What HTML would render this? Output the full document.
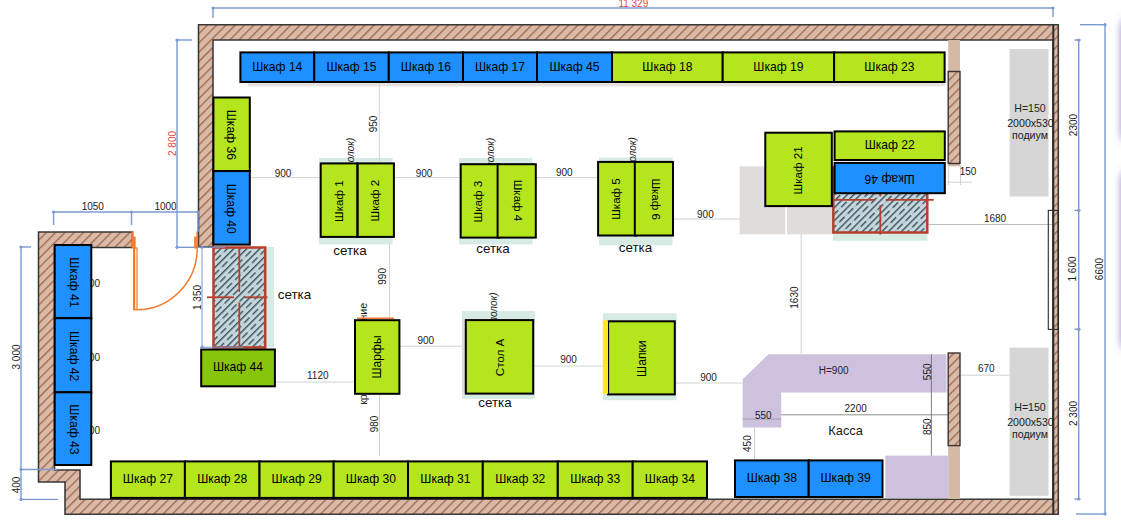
<!DOCTYPE html>
<html><head><meta charset="utf-8"><title>plan</title>
<style>
html,body{margin:0;padding:0;background:#fff;}
body{width:1121px;height:532px;overflow:hidden;position:relative;font-family:"Liberation Sans",sans-serif;}
svg{position:absolute;left:0;top:0;display:block}
text{font-family:"Liberation Sans",sans-serif;fill:#1a1a1a}
.c{font-size:12.1px;text-anchor:middle;fill:#000}
.c2{font-size:11.6px;text-anchor:middle;fill:#000}
.d{font-size:10px;text-anchor:middle;fill:#222}
.s{font-size:13.4px;text-anchor:middle;fill:#111}
.r{font-size:10px;text-anchor:middle;fill:#e8453c}
.i{font-size:10px;font-style:italic;fill:#222}
.p{font-size:10.6px;text-anchor:middle;fill:#222}
</style></head><body>
<svg width="1121" height="532" viewBox="0 0 1121 532">
<defs>
<pattern id="wh" width="6.55" height="6.55" patternUnits="userSpaceOnUse" patternTransform="rotate(45)">
<rect width="6.55" height="6.55" fill="#d9baa8"/><rect x="0" y="0" width="1.3" height="6.55" fill="#a0664a"/>
</pattern>
<pattern id="gh" width="9.2" height="12" patternUnits="userSpaceOnUse" patternTransform="rotate(45)">
<rect width="9.2" height="12" fill="#c6d8dc"/>
<rect x="0" y="0" width="1.45" height="12" fill="#3d5462"/>
<rect x="4.6" y="0" width="1.45" height="7.8" fill="#3d5462"/>
<rect x="4.7" y="9.4" width="1.0" height="0.9" fill="#6f8792"/>
</pattern>
</defs>
<rect width="1121" height="532" fill="#ffffff"/>

<rect x="319" y="158" width="73.6" height="86.4" fill="#d6ebe3"/>
<rect x="459" y="158" width="73.5" height="86.4" fill="#d6ebe3"/>
<rect x="599" y="157.5" width="73.5" height="87.8" fill="#d6ebe3"/>
<rect x="462" y="311" width="73.0" height="87.8" fill="#d6ebe3"/>
<rect x="461.8" y="319" width="4.2" height="75.0" fill="#e3ddd8"/>
<rect x="603" y="313.3" width="73.6" height="86.9" fill="#d6ebe3"/>
<rect x="266" y="247" width="8.0" height="100.5" fill="#d6ebe3"/>
<rect x="833" y="233" width="94.4" height="7.8" fill="#d6ebe3"/>
<rect x="248" y="82" width="697.0" height="4.4" fill="#e7e3df"/>
<rect x="739.6" y="166.3" width="45.7" height="68.0" fill="#e0dcd9"/>
<rect x="787" y="166.3" width="45.0" height="68.0" fill="#e0dcd9"/>
<rect x="1009.6" y="49" width="38.9" height="147.6" fill="#d6d6d6"/>
<rect x="1009.6" y="347.6" width="38.9" height="148.2" fill="#d6d6d6"/>
<polygon points="768.5,354.3 946.5,354.3 946.5,392.6 781.2,392.6 781.2,427.6 742.7,427.6 742.7,379.3" fill="#cdc1de"/>
<rect x="885.3" y="455.6" width="62.7" height="42.4" fill="#cdc1de"/>
<line x1="250" y1="177.6" x2="320" y2="177.6" stroke="#d2d2d2" stroke-width="1"/>
<line x1="395" y1="177.6" x2="460" y2="177.6" stroke="#d2d2d2" stroke-width="1"/>
<line x1="536" y1="177.6" x2="597.5" y2="177.6" stroke="#d2d2d2" stroke-width="1"/>
<line x1="673.5" y1="219" x2="740" y2="219" stroke="#d2d2d2" stroke-width="1"/>
<line x1="379.3" y1="83" x2="379.3" y2="163" stroke="#d2d2d2" stroke-width="1"/>
<line x1="389.6" y1="244" x2="389.6" y2="319" stroke="#d2d2d2" stroke-width="1"/>
<line x1="379.5" y1="395" x2="379.5" y2="456" stroke="#d2d2d2" stroke-width="1"/>
<line x1="276" y1="382" x2="354.6" y2="382" stroke="#d2d2d2" stroke-width="1"/>
<line x1="400" y1="346.2" x2="461.8" y2="346.2" stroke="#d2d2d2" stroke-width="1"/>
<line x1="535" y1="366" x2="603" y2="366" stroke="#d2d2d2" stroke-width="1"/>
<line x1="676" y1="383" x2="742.7" y2="383" stroke="#d2d2d2" stroke-width="1"/>
<line x1="801.2" y1="234" x2="801.2" y2="354.3" stroke="#d2d2d2" stroke-width="1"/>
<line x1="928.5" y1="224.5" x2="1052.3" y2="224.5" stroke="#bdbdbd" stroke-width="1"/>
<line x1="960" y1="375.2" x2="1009.6" y2="375.2" stroke="#d2d2d2" stroke-width="1"/>
<line x1="781.2" y1="414.8" x2="948" y2="414.8" stroke="#808080" stroke-width="0.9"/>
<line x1="742.7" y1="419" x2="781.2" y2="419" stroke="#9e96a8" stroke-width="0.9"/>
<line x1="931.4" y1="354.3" x2="931.4" y2="455.6" stroke="#707070" stroke-width="0.9"/>
<line x1="754.5" y1="427.6" x2="754.5" y2="459.5" stroke="#d2d2d2" stroke-width="1"/>
<line x1="947" y1="182.2" x2="972" y2="182.2" stroke="#d2d2d2" stroke-width="1"/>
<line x1="948.5" y1="165" x2="948.5" y2="185" stroke="#d2d2d2" stroke-width="1"/>
<line x1="960.5" y1="165" x2="960.5" y2="185" stroke="#d2d2d2" stroke-width="1"/>
<polygon points="132.5,232 38.5,232 38.5,482 65,482 65,514.2 1058.3,514.2 1058.3,24.8 198.5,24.8 198.5,247 213,247 213,40 1053,40 1053,499.3 80,499.3 80,470 54.5,470 54.5,247.5 132.5,247.5" fill="url(#wh)" stroke="#3a3837" stroke-width="1.55" stroke-linejoin="miter"/>
<line x1="1053.3" y1="24.6" x2="1053.3" y2="514.2" stroke="#2e2b2a" stroke-width="2"/>
<rect x="948.2" y="40" width="11.8" height="32.0" fill="#d5b9a7"/>
<rect x="948.2" y="163" width="11.8" height="3.3" fill="#d5b9a7"/>
<rect x="948.2" y="445" width="11.8" height="54.0" fill="#d5b9a7"/>
<rect x="948.2" y="71.5" width="11.8" height="92" fill="url(#wh)" stroke="#3a3230" stroke-width="1.4"/>
<rect x="948.2" y="353" width="11.8" height="92.6" fill="url(#wh)" stroke="#3a3230" stroke-width="1.4"/>
<rect x="1048.3" y="210.4" width="9.8" height="119" fill="none" stroke="#2a2a2a" stroke-width="1.1"/>
<rect x="213.5" y="247.5" width="51.7" height="99.9" fill="url(#gh)" stroke="#b63f2e" stroke-width="2.5"/>
<line x1="239.3" y1="247" x2="239.3" y2="292" stroke="#b63f2e" stroke-width="1.8"/>
<line x1="239.3" y1="302.5" x2="239.3" y2="348" stroke="#b63f2e" stroke-width="1.8"/>
<line x1="207" y1="297.3" x2="234" y2="297.3" stroke="#b63f2e" stroke-width="1.8"/>
<line x1="244.8" y1="297.3" x2="267.5" y2="297.3" stroke="#b63f2e" stroke-width="1.8"/>
<rect x="833.3" y="167.2" width="94" height="65.3" fill="url(#gh)" stroke="#b63f2e" stroke-width="2.5"/>
<line x1="880.3" y1="193" x2="880.3" y2="196.5" stroke="#b63f2e" stroke-width="1.8"/>
<line x1="880.3" y1="205.3" x2="880.3" y2="234.6" stroke="#b63f2e" stroke-width="1.8"/>
<line x1="832" y1="199.9" x2="874.6" y2="199.9" stroke="#b63f2e" stroke-width="1.8"/>
<line x1="885.9" y1="199.9" x2="933.8" y2="199.9" stroke="#b63f2e" stroke-width="1.8"/>
<text class="d" x="91.7" y="287">900</text>
<text class="d" x="91.7" y="360.5">900</text>
<text class="d" x="91.7" y="433.5">900</text>
<text class="i" style="text-anchor:end" transform="translate(354.3,137.7) rotate(-90)">(без полок)</text>
<text class="i" style="text-anchor:end" transform="translate(494.3,137.7) rotate(-90)">(без полок)</text>
<text class="i" style="text-anchor:end" transform="translate(635.5,137.2) rotate(-90)">(без полок)</text>
<text class="i" style="text-anchor:end" transform="translate(497.3,292.5) rotate(-90)">(без полок)</text>
<text class="d" style="text-anchor:end;font-size:10.6px" transform="translate(367.2,302.9) rotate(-90)">крепление</text>
<text class="d" style="text-anchor:start;font-size:10.6px" transform="translate(367.2,404.8) rotate(-90)">крепл</text>
<rect x="240.4" y="52.4" width="73.8" height="29.6" fill="#1e90ff" stroke="#000" stroke-width="2"/>
<text class="c" x="277.3" y="71.3">Шкаф 14</text>
<rect x="314.2" y="52.4" width="74.6" height="29.6" fill="#1e90ff" stroke="#000" stroke-width="2"/>
<text class="c" x="351.5" y="71.3">Шкаф 15</text>
<rect x="388.8" y="52.4" width="74.2" height="29.6" fill="#1e90ff" stroke="#000" stroke-width="2"/>
<text class="c" x="425.9" y="71.3">Шкаф 16</text>
<rect x="463.0" y="52.4" width="74.0" height="29.6" fill="#1e90ff" stroke="#000" stroke-width="2"/>
<text class="c" x="500.0" y="71.3">Шкаф 17</text>
<rect x="537.0" y="52.4" width="75.0" height="29.6" fill="#1e90ff" stroke="#000" stroke-width="2"/>
<text class="c" x="574.5" y="71.3">Шкаф 45</text>
<rect x="612.0" y="52.4" width="110.7" height="29.6" fill="#b5e61d" stroke="#000" stroke-width="2"/>
<text class="c" x="667.4" y="71.3">Шкаф 18</text>
<rect x="722.7" y="52.4" width="111.4" height="29.6" fill="#b5e61d" stroke="#000" stroke-width="2"/>
<text class="c" x="778.4" y="71.3">Шкаф 19</text>
<rect x="834.1" y="52.4" width="110.5" height="29.6" fill="#b5e61d" stroke="#000" stroke-width="2"/>
<text class="c" x="889.4" y="71.3">Шкаф 23</text>
<rect x="110.9" y="461.4" width="74.0" height="36.5" fill="#b5e61d" stroke="#000" stroke-width="2"/>
<text class="c" x="147.9" y="482.9">Шкаф 27</text>
<rect x="184.9" y="461.4" width="74.6" height="36.5" fill="#b5e61d" stroke="#000" stroke-width="2"/>
<text class="c" x="222.2" y="482.9">Шкаф 28</text>
<rect x="259.5" y="461.4" width="74.2" height="36.5" fill="#b5e61d" stroke="#000" stroke-width="2"/>
<text class="c" x="296.6" y="482.9">Шкаф 29</text>
<rect x="333.7" y="461.4" width="74.3" height="36.5" fill="#b5e61d" stroke="#000" stroke-width="2"/>
<text class="c" x="370.9" y="482.9">Шкаф 30</text>
<rect x="408.0" y="461.4" width="74.8" height="36.5" fill="#b5e61d" stroke="#000" stroke-width="2"/>
<text class="c" x="445.4" y="482.9">Шкаф 31</text>
<rect x="482.8" y="461.4" width="75.0" height="36.5" fill="#b5e61d" stroke="#000" stroke-width="2"/>
<text class="c" x="520.3" y="482.9">Шкаф 32</text>
<rect x="557.8" y="461.4" width="74.9" height="36.5" fill="#b5e61d" stroke="#000" stroke-width="2"/>
<text class="c" x="595.2" y="482.9">Шкаф 33</text>
<rect x="632.7" y="461.4" width="74.3" height="36.5" fill="#b5e61d" stroke="#000" stroke-width="2"/>
<text class="c" x="669.9" y="482.9">Шкаф 34</text>
<rect x="735.0" y="460.4" width="73.7" height="36.6" fill="#1e90ff" stroke="#000" stroke-width="2"/>
<text class="c" x="771.9" y="481.7">Шкаф 38</text>
<rect x="808.7" y="460.4" width="73.8" height="36.6" fill="#1e90ff" stroke="#000" stroke-width="2"/>
<text class="c" x="845.6" y="481.7">Шкаф 39</text>
<rect x="54.7" y="245.0" width="36.6" height="73.2" fill="#1e90ff" stroke="#000" stroke-width="2"/>
<text class="c" transform="translate(74.0,282.4) rotate(90)" x="0" y="4.1">Шкаф 41</text>
<rect x="54.7" y="318.2" width="36.6" height="74.1" fill="#1e90ff" stroke="#000" stroke-width="2"/>
<text class="c" transform="translate(74.0,356.1) rotate(90)" x="0" y="4.1">Шкаф 42</text>
<rect x="54.7" y="392.3" width="36.6" height="72.7" fill="#1e90ff" stroke="#000" stroke-width="2"/>
<text class="c" transform="translate(74.0,429.4) rotate(90)" x="0" y="4.1">Шкаф 43</text>
<rect x="213.4" y="97.5" width="36.4" height="73.6" fill="#b5e61d" stroke="#000" stroke-width="2"/>
<text class="c" transform="translate(231.6,134.8) rotate(90)" x="0" y="4.1">Шкаф 36</text>
<rect x="213.4" y="171.1" width="36.4" height="73.5" fill="#1e90ff" stroke="#000" stroke-width="2"/>
<text class="c" transform="translate(231.6,208.7) rotate(90)" x="0" y="4.1">Шкаф 40</text>
<rect x="320.7" y="163.4" width="36.7" height="73.5" fill="#b5e61d" stroke="#000" stroke-width="2"/>
<text class="c2" transform="translate(339.0,201.2) rotate(-90)" x="0" y="4.1">Шкаф 1</text>
<rect x="357.7" y="163.4" width="36.2" height="73.5" fill="#b5e61d" stroke="#000" stroke-width="2"/>
<text class="c2" transform="translate(374.9,200.7) rotate(-90)" x="0" y="4.1">Шкаф 2</text>
<rect x="460.7" y="164.2" width="38.3" height="73.4" fill="#b5e61d" stroke="#000" stroke-width="2"/>
<text class="c2" transform="translate(477.9,201.7) rotate(-90)" x="0" y="4.1">Шкаф 3</text>
<rect x="497.6" y="164.2" width="38.2" height="73.4" fill="#b5e61d" stroke="#000" stroke-width="2"/>
<text class="c2" transform="translate(518.5,200.5) rotate(90)" x="0" y="4.1">Шкаф 4</text>
<rect x="598.1" y="161.9" width="38.1" height="73.6" fill="#b5e61d" stroke="#000" stroke-width="2"/>
<text class="c2" transform="translate(615.4,199.0) rotate(-90)" x="0" y="4.1">Шкаф 5</text>
<rect x="634.8" y="161.9" width="38.2" height="73.6" fill="#b5e61d" stroke="#000" stroke-width="2"/>
<text class="c2" transform="translate(656.1,199.2) rotate(90)" x="0" y="4.1">Шкаф 6</text>
<rect x="765.3" y="132.7" width="66.5" height="73.4" fill="#b5e61d" stroke="#000" stroke-width="2"/>
<text class="c2" transform="translate(797.8,170.4) rotate(-90)" x="0" y="4.1">Шкаф 21</text>
<rect x="834.6" y="131.4" width="110.2" height="28.6" fill="#b5e61d" stroke="#000" stroke-width="2"/>
<text class="c" x="889.7" y="149.0">Шкаф 22</text>
<rect x="834.6" y="162.9" width="110.2" height="30.3" fill="#1e90ff" stroke="#000" stroke-width="2"/>
<text class="c" transform="translate(889.7,179.2) rotate(180)" x="0" y="4.1">Шкаф 46</text>
<rect x="201.2" y="349.5" width="73.7" height="36.8" fill="#87c50a" stroke="#000" stroke-width="2"/>
<text class="c" x="238.0" y="371.1">Шкаф 44</text>
<rect x="355.0" y="320.2" width="44.4" height="73.6" fill="#b5e61d" stroke="#000" stroke-width="2"/>
<text class="c" transform="translate(377.2,357.0) rotate(-90)" x="0" y="4.1">Шарфы</text>
<rect x="465.8" y="320.1" width="67.4" height="73.5" fill="#b5e61d" stroke="#000" stroke-width="2"/>
<text class="c2" transform="translate(499.5,357.5) rotate(-90)" x="0" y="4.1">Стол А</text>
<rect x="608.1" y="321.3" width="66.7" height="73.1" fill="#b5e61d" stroke="#000" stroke-width="2"/>
<text class="c" transform="translate(641.5,358.7) rotate(-90)" x="0" y="4.1">Шапки</text>
<rect x="602.8" y="320.3" width="5.2" height="73.5" fill="#ffe81a"/>
<line x1="357" y1="318.2" x2="394" y2="318.2" stroke="#f07a2c" stroke-width="1.6"/>
<text class="d" x="283" y="177.0">900</text>
<text class="d" x="424" y="176.6">900</text>
<text class="d" x="564.3" y="176.4">900</text>
<text class="d" x="705.4" y="217.6">900</text>
<text class="d" x="425.8" y="344.2">900</text>
<text class="d" x="568.6" y="363.2">900</text>
<text class="d" x="708.5" y="380.5">900</text>
<text class="d" x="317.8" y="379.3">1120</text>
<text class="d" x="995" y="221.5">1680</text>
<text class="d" x="968" y="175.3">150</text>
<text class="d" x="986.3" y="372.3">670</text>
<text class="d" x="855.7" y="411.5">2200</text>
<text class="d" x="763.3" y="418.6">550</text>
<text class="d" x="833.7" y="373.6">H=900</text>
<text class="d" x="92.8" y="210.3">1050</text>
<text class="d" x="165.5" y="210.3">1000</text>
<text class="d" transform="translate(377.3,124) rotate(-90)">950</text>
<text class="d" transform="translate(385.6,276.4) rotate(-90)">990</text>
<text class="d" transform="translate(377.5,424) rotate(-90)">980</text>
<text class="d" transform="translate(797.8,297.6) rotate(-90)">1630</text>
<text class="d" transform="translate(931,371.8) rotate(-90)">550</text>
<text class="d" transform="translate(931,426.7) rotate(-90)">850</text>
<text class="d" transform="translate(751,443.6) rotate(-90)">450</text>
<text class="d" transform="translate(200.8,297.5) rotate(-90)">1 350</text>
<text class="d" transform="translate(19.8,357) rotate(-90)">3 000</text>
<text class="d" transform="translate(20.4,485) rotate(-90)">400</text>
<text class="d" transform="translate(1077.3,125) rotate(-90)">2300</text>
<text class="d" transform="translate(1076.3,269) rotate(-90)">1 600</text>
<text class="d" transform="translate(1103,269) rotate(-90)">6600</text>
<text class="d" transform="translate(1077.3,413.5) rotate(-90)">2 300</text>
<text class="r" transform="translate(175.8,143.5) rotate(-90)">2 800</text>
<text class="r" x="633.3" y="6.7">11 329</text>
<text class="s" x="294.5" y="298.7">сетка</text>
<text class="s" x="350" y="254.5">сетка</text>
<text class="s" x="493" y="253.3">сетка</text>
<text class="s" x="635.5" y="252.3">сетка</text>
<text class="s" x="495" y="407">сетка</text>
<text x="845.6" y="435.2" style="font-size:12.9px;text-anchor:middle">Касса</text>
<text class="p" x="1030" y="112">H=150</text>
<text class="p" x="1030.5" y="127.3">2000x530</text>
<text class="p" x="1030" y="139.2">подиум</text>
<text class="p" x="1030" y="410.7">H=150</text>
<text class="p" x="1030.5" y="426.0">2000x530</text>
<text class="p" x="1030" y="437.9">подиум</text>
<line x1="213" y1="8" x2="1053" y2="8" stroke="#7b9ad0" stroke-width="1.4"/>
<line x1="213" y1="8" x2="213" y2="18" stroke="#7b9ad0" stroke-width="1.4"/>
<line x1="1053" y1="8" x2="1053" y2="17" stroke="#7b9ad0" stroke-width="1.4"/>
<circle cx="213" cy="8" r="1.6" fill="#7b9ad0"/>
<circle cx="1053" cy="8" r="1.6" fill="#7b9ad0"/>
<line x1="177" y1="40" x2="177" y2="247.3" stroke="#7b9ad0" stroke-width="1.4"/>
<line x1="177" y1="40" x2="192" y2="40" stroke="#7b9ad0" stroke-width="1.4"/>
<line x1="177" y1="247.3" x2="200" y2="247.3" stroke="#7b9ad0" stroke-width="1.4"/>
<circle cx="177" cy="40" r="1.6" fill="#7b9ad0"/>
<circle cx="177" cy="247.3" r="1.6" fill="#7b9ad0"/>
<line x1="53.6" y1="212" x2="198" y2="212" stroke="#7b9ad0" stroke-width="1.4"/>
<line x1="53.6" y1="212" x2="53.6" y2="225" stroke="#7b9ad0" stroke-width="1.4"/>
<line x1="131.5" y1="212" x2="131.5" y2="225" stroke="#7b9ad0" stroke-width="1.4"/>
<line x1="198" y1="212" x2="198" y2="232" stroke="#7b9ad0" stroke-width="1.4"/>
<circle cx="53.6" cy="212" r="1.6" fill="#7b9ad0"/>
<circle cx="131.5" cy="212" r="1.6" fill="#7b9ad0"/>
<circle cx="198" cy="212" r="1.6" fill="#7b9ad0"/>
<line x1="21" y1="247" x2="21" y2="499.4" stroke="#7b9ad0" stroke-width="1.4"/>
<line x1="21" y1="247" x2="31" y2="247" stroke="#7b9ad0" stroke-width="1.4"/>
<line x1="21" y1="469.5" x2="58" y2="469.5" stroke="#7b9ad0" stroke-width="1.4"/>
<line x1="21" y1="499.4" x2="58" y2="499.4" stroke="#7b9ad0" stroke-width="1.4"/>
<circle cx="21" cy="247" r="1.6" fill="#7b9ad0"/>
<circle cx="21" cy="469.5" r="1.6" fill="#7b9ad0"/>
<circle cx="21" cy="499.4" r="1.6" fill="#7b9ad0"/>
<line x1="202" y1="247" x2="202" y2="348" stroke="#7b9ad0" stroke-width="1"/>
<line x1="202" y1="247.2" x2="225" y2="247.2" stroke="#7b9ad0" stroke-width="1"/>
<line x1="201" y1="347.2" x2="243" y2="347.2" stroke="#7b9ad0" stroke-width="1"/>
<circle cx="202" cy="247.2" r="1.6" fill="#7b9ad0"/>
<circle cx="202" cy="347.2" r="1.6" fill="#7b9ad0"/>
<line x1="1078.7" y1="40" x2="1078.7" y2="499" stroke="#7b9ad0" stroke-width="1.4"/>
<line x1="1074.5" y1="40" x2="1080.5" y2="40" stroke="#7b9ad0" stroke-width="1.4"/>
<circle cx="1078.7" cy="40" r="1.6" fill="#7b9ad0"/>
<line x1="1074.5" y1="210.4" x2="1080.5" y2="210.4" stroke="#7b9ad0" stroke-width="1.4"/>
<circle cx="1078.7" cy="210.4" r="1.6" fill="#7b9ad0"/>
<line x1="1074.5" y1="329.3" x2="1080.5" y2="329.3" stroke="#7b9ad0" stroke-width="1.4"/>
<circle cx="1078.7" cy="329.3" r="1.6" fill="#7b9ad0"/>
<line x1="1074.5" y1="499" x2="1080.5" y2="499" stroke="#7b9ad0" stroke-width="1.4"/>
<circle cx="1078.7" cy="499" r="1.6" fill="#7b9ad0"/>
<line x1="1105" y1="24.7" x2="1105" y2="514" stroke="#7b9ad0" stroke-width="1.4"/>
<line x1="1080" y1="24.7" x2="1105" y2="24.7" stroke="#7b9ad0" stroke-width="1.4"/>
<line x1="1076" y1="514" x2="1105" y2="514" stroke="#7b9ad0" stroke-width="1.4"/>
<circle cx="1105" cy="24.7" r="1.6" fill="#7b9ad0"/>
<circle cx="1105" cy="514" r="1.6" fill="#7b9ad0"/>
<rect x="131.7" y="231.3" width="1.7" height="17" fill="#f07a2c"/>
<rect x="133.2" y="236.5" width="2.4" height="12" fill="#f07a2c"/>
<rect x="196.4" y="231.3" width="1.7" height="17" fill="#f07a2c"/>
<rect x="194.2" y="236.5" width="2.4" height="12" fill="#f07a2c"/>
<rect x="133.6" y="248" width="3.4" height="61.6" fill="#fff" stroke="#f07a2c" stroke-width="1.2"/>
<rect x="133" y="247.6" width="2.2" height="62.5" fill="#f07a2c"/>
<path d="M137.2,309.8 A61,61.5 0 0 0 197.2,248.3" fill="none" stroke="#f07a2c" stroke-width="1.5"/>
</svg>
<div style="position:absolute;left:1124px;top:19px;width:40px;height:122px;border-radius:8px;background:#fff;box-shadow:0 0 9px 2px rgba(100,80,180,.78)"></div>
<div style="position:absolute;left:1124px;top:171px;width:40px;height:178px;border-radius:8px;background:#fff;box-shadow:0 0 9px 2px rgba(100,80,180,.78)"></div>
</body></html>
